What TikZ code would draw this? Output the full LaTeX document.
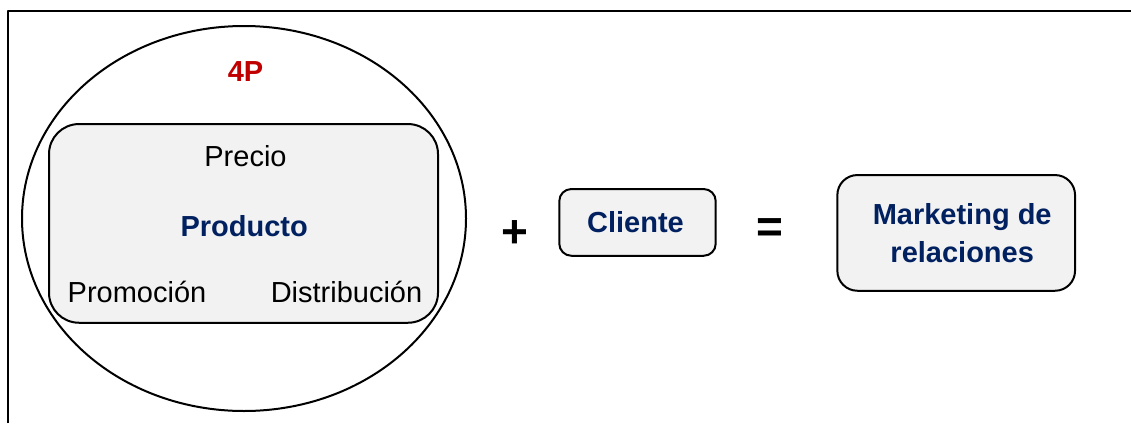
\documentclass[tikz,border=0pt]{standalone}
\usepackage{fontspec}
\setmainfont{Liberation Sans}
\definecolor{azul}{HTML}{002060}
\definecolor{rojo}{HTML}{C00000}
\definecolor{gris}{HTML}{F2F2F2}
\begin{document}
\begin{tikzpicture}[x=1pt, y=-1pt, line width=2.0pt, line join=round,
  caja/.style={draw, fill=gris, rounded corners=#1, inner sep=0pt},
  texto/.style={anchor=base, inner sep=0pt, font=\fontsize{29}{37.7}\selectfont},
  fuerte/.style={texto, text=azul, font=\fontsize{29}{37.7}\selectfont\bfseries},
  signo/.style={anchor=center, inner sep=0pt, font=\fontsize{46}{54}\selectfont\bfseries}]

  %% ════ marco (solo arriba e izquierda) ════
  \draw[line width=2.7pt] (8,423) -- (8,11) -- (1131,11);

  %% ════ elipse de las 4P ════
  \draw (244,218.5) ellipse (222 and 192.5);
  \node[texto, text=rojo, font=\fontsize{29}{37.7}\selectfont\bfseries] (cuatroP) at (245.5,81.7) {4P};

  %% ════ caja interior: mezcla ════
  \node[caja=30, minimum width=389, minimum height=198.7] (mezcla) at (243.5,223.4) {};
  \node[texto] (precio) at (245.5,166.7) {Precio};
  \node[fuerte] (producto) at (244.2,236) {Producto};
  \node[texto] (promocion) at (137,302.7) {Promoción};
  \node[texto] (distribucion) at (346.5,302.7) {Distribución};

  %% ════ + Cliente = Marketing de relaciones ════
  \node[signo] (mas) at (514.5,234) {+};
  \node[caja=12, minimum width=156.4, minimum height=66.7, text=azul,
        font=\fontsize{29}{37.7}\selectfont\bfseries] (cliente) at (637.5,222.4) {\hspace*{-4pt}Cliente};
  \node[signo] (igual) at (769.5,231) {=};
  \node[caja=20, minimum width=237.7, minimum height=115.7] (marketing) at (956.2,232.9) {};
  % el texto va un poco a la derecha del centro de la caja
  \node[fuerte, anchor=center, align=center] (mktTexto) at ([xshift=6]marketing.center)
        {Marketing de\\relaciones};

  \pgfresetboundingbox
  \path[use as bounding box] (0,0) rectangle (1131,423);
\end{tikzpicture}
\end{document}
